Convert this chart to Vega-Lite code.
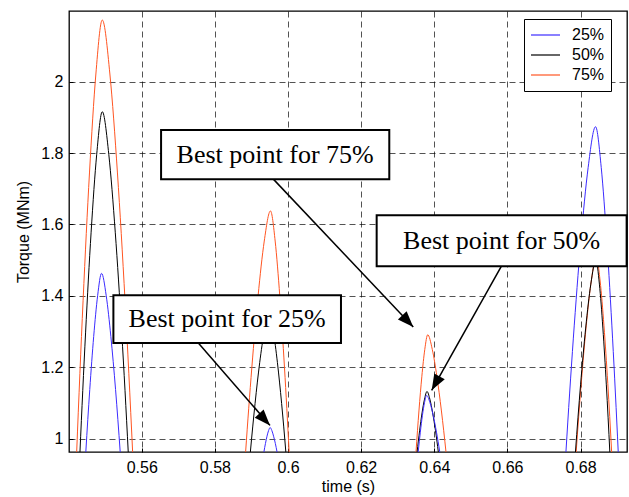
{
  "$schema": "https://vega.github.io/schema/vega-lite/v6.json",
  "width": 558,
  "height": 441,
  "autosize": {"type": "none"},
  "padding": {"left": 69, "top": 11, "right": 2, "bottom": 45},
  "background": "#ffffff",
  "config": {
    "view": {"stroke": "#000000", "strokeWidth": 1.3},
    "font": "Liberation Sans",
    "axis": {
      "grid": true,
      "gridColor": "#000000",
      "gridDash": [6, 4],
      "gridWidth": 0.8,
      "gridOpacity": 0.85,
      "domain": false,
      "ticks": true,
      "tickSize": -4,
      "tickColor": "#000000",
      "labelFont": "Liberation Sans",
      "labelFontSize": 16,
      "labelColor": "#000000",
      "titleFont": "Liberation Sans",
      "titleFontSize": 16,
      "titleFontWeight": "normal",
      "titleColor": "#000000"
    },
    "legend": {"labelFontSize": 16, "labelFont": "Liberation Sans", "labelColor": "#000000"}
  },
  "datasets": {
    "curves": [
      {"s": "75%", "k": "R1", "t": 0.54115, "T": 0.6803}, {"s": "75%", "k": "R1", "t": 0.5422, "T": 0.9624}, {"s": "75%", "k": "R1", "t": 0.54395, "T": 1.3861}, {"s": "75%", "k": "R1", "t": 0.5457, "T": 1.7444}, {"s": "75%", "k": "R1", "t": 0.54745, "T": 2.0217}, {"s": "75%", "k": "R1", "t": 0.5492, "T": 2.173}, {"s": "75%", "k": "R1", "t": 0.55128, "T": 2.0217}, {"s": "75%", "k": "R1", "t": 0.55335, "T": 1.7444}, {"s": "75%", "k": "R1", "t": 0.55543, "T": 1.3861}, {"s": "75%", "k": "R1", "t": 0.5575, "T": 0.9624}, {"s": "75%", "k": "R1", "t": 0.55875, "T": 0.6803},
      {"s": "75%", "k": "R2", "t": 0.58738, "T": 0.805}, {"s": "75%", "k": "R2", "t": 0.5884, "T": 0.9624}, {"s": "75%", "k": "R2", "t": 0.5901, "T": 1.1989}, {"s": "75%", "k": "R2", "t": 0.5918, "T": 1.3988}, {"s": "75%", "k": "R2", "t": 0.5935, "T": 1.5536}, {"s": "75%", "k": "R2", "t": 0.5952, "T": 1.638}, {"s": "75%", "k": "R2", "t": 0.59648, "T": 1.5536}, {"s": "75%", "k": "R2", "t": 0.59775, "T": 1.3988}, {"s": "75%", "k": "R2", "t": 0.59903, "T": 1.1989}, {"s": "75%", "k": "R2", "t": 0.6003, "T": 0.9624}, {"s": "75%", "k": "R2", "t": 0.60107, "T": 0.805},
      {"s": "75%", "k": "R3", "t": 0.63452, "T": 0.8858}, {"s": "75%", "k": "R3", "t": 0.635, "T": 0.9624}, {"s": "75%", "k": "R3", "t": 0.6358, "T": 1.0774}, {"s": "75%", "k": "R3", "t": 0.6366, "T": 1.1747}, {"s": "75%", "k": "R3", "t": 0.6374, "T": 1.2499}, {"s": "75%", "k": "R3", "t": 0.6382, "T": 1.291}, {"s": "75%", "k": "R3", "t": 0.63945, "T": 1.2499}, {"s": "75%", "k": "R3", "t": 0.6407, "T": 1.1747}, {"s": "75%", "k": "R3", "t": 0.64195, "T": 1.0774}, {"s": "75%", "k": "R3", "t": 0.6432, "T": 0.9624}, {"s": "75%", "k": "R3", "t": 0.64395, "T": 0.8858},
      {"s": "75%", "k": "R4", "t": 0.67797, "T": 0.8348}, {"s": "75%", "k": "R4", "t": 0.6788, "T": 0.9624}, {"s": "75%", "k": "R4", "t": 0.68018, "T": 1.1541}, {"s": "75%", "k": "R4", "t": 0.68155, "T": 1.3161}, {"s": "75%", "k": "R4", "t": 0.68293, "T": 1.4416}, {"s": "75%", "k": "R4", "t": 0.6843, "T": 1.51}, {"s": "75%", "k": "R4", "t": 0.68535, "T": 1.4416}, {"s": "75%", "k": "R4", "t": 0.6864, "T": 1.3161}, {"s": "75%", "k": "R4", "t": 0.68745, "T": 1.1541}, {"s": "75%", "k": "R4", "t": 0.6885, "T": 0.9624}, {"s": "75%", "k": "R4", "t": 0.68913, "T": 0.8348},
      {"s": "50%", "k": "K1", "t": 0.54218, "T": 0.7402}, {"s": "50%", "k": "K1", "t": 0.5431, "T": 0.9624}, {"s": "50%", "k": "K1", "t": 0.54463, "T": 1.2962}, {"s": "50%", "k": "K1", "t": 0.54615, "T": 1.5784}, {"s": "50%", "k": "K1", "t": 0.54768, "T": 1.7968}, {"s": "50%", "k": "K1", "t": 0.5492, "T": 1.916}, {"s": "50%", "k": "K1", "t": 0.55098, "T": 1.7968}, {"s": "50%", "k": "K1", "t": 0.55275, "T": 1.5784}, {"s": "50%", "k": "K1", "t": 0.55453, "T": 1.2962}, {"s": "50%", "k": "K1", "t": 0.5563, "T": 0.9624}, {"s": "50%", "k": "K1", "t": 0.55737, "T": 0.7402},
      {"s": "50%", "k": "K2", "t": 0.58893, "T": 0.8721}, {"s": "50%", "k": "K2", "t": 0.5897, "T": 0.9624}, {"s": "50%", "k": "K2", "t": 0.59098, "T": 1.0981}, {"s": "50%", "k": "K2", "t": 0.59225, "T": 1.2128}, {"s": "50%", "k": "K2", "t": 0.59353, "T": 1.3016}, {"s": "50%", "k": "K2", "t": 0.5948, "T": 1.35}, {"s": "50%", "k": "K2", "t": 0.59595, "T": 1.3016}, {"s": "50%", "k": "K2", "t": 0.5971, "T": 1.2128}, {"s": "50%", "k": "K2", "t": 0.59825, "T": 1.0981}, {"s": "50%", "k": "K2", "t": 0.5994, "T": 0.9624}, {"s": "50%", "k": "K2", "t": 0.60009, "T": 0.8721},
      {"s": "50%", "k": "K3", "t": 0.6349, "T": 0.9229}, {"s": "50%", "k": "K3", "t": 0.6353, "T": 0.9624}, {"s": "50%", "k": "K3", "t": 0.63598, "T": 1.0218}, {"s": "50%", "k": "K3", "t": 0.63665, "T": 1.072}, {"s": "50%", "k": "K3", "t": 0.63733, "T": 1.1108}, {"s": "50%", "k": "K3", "t": 0.638, "T": 1.132}, {"s": "50%", "k": "K3", "t": 0.63878, "T": 1.1108}, {"s": "50%", "k": "K3", "t": 0.63955, "T": 1.072}, {"s": "50%", "k": "K3", "t": 0.64033, "T": 1.0218}, {"s": "50%", "k": "K3", "t": 0.6411, "T": 0.9624}, {"s": "50%", "k": "K3", "t": 0.64157, "T": 0.9229},
      {"s": "50%", "k": "K4", "t": 0.67776, "T": 0.8371}, {"s": "50%", "k": "K4", "t": 0.6786, "T": 0.9624}, {"s": "50%", "k": "K4", "t": 0.68, "T": 1.1506}, {"s": "50%", "k": "K4", "t": 0.6814, "T": 1.3097}, {"s": "50%", "k": "K4", "t": 0.6828, "T": 1.4328}, {"s": "50%", "k": "K4", "t": 0.6842, "T": 1.5}, {"s": "50%", "k": "K4", "t": 0.68515, "T": 1.4328}, {"s": "50%", "k": "K4", "t": 0.6861, "T": 1.3097}, {"s": "50%", "k": "K4", "t": 0.68705, "T": 1.1506}, {"s": "50%", "k": "K4", "t": 0.688, "T": 0.9624}, {"s": "50%", "k": "K4", "t": 0.68857, "T": 0.8371},
      {"s": "25%", "k": "B1", "t": 0.54405, "T": 0.8458}, {"s": "25%", "k": "B1", "t": 0.5447, "T": 0.9624}, {"s": "25%", "k": "B1", "t": 0.54578, "T": 1.1376}, {"s": "25%", "k": "B1", "t": 0.54685, "T": 1.2858}, {"s": "25%", "k": "B1", "t": 0.54793, "T": 1.4004}, {"s": "25%", "k": "B1", "t": 0.549, "T": 1.463}, {"s": "25%", "k": "B1", "t": 0.55028, "T": 1.4004}, {"s": "25%", "k": "B1", "t": 0.55155, "T": 1.2858}, {"s": "25%", "k": "B1", "t": 0.55283, "T": 1.1376}, {"s": "25%", "k": "B1", "t": 0.5541, "T": 0.9624}, {"s": "25%", "k": "B1", "t": 0.55487, "T": 0.8458},
      {"s": "25%", "k": "B2", "t": 0.59314, "T": 0.9464}, {"s": "25%", "k": "B2", "t": 0.5934, "T": 0.9624}, {"s": "25%", "k": "B2", "t": 0.59383, "T": 0.9864}, {"s": "25%", "k": "B2", "t": 0.59425, "T": 1.0067}, {"s": "25%", "k": "B2", "t": 0.59468, "T": 1.0224}, {"s": "25%", "k": "B2", "t": 0.5951, "T": 1.031}, {"s": "25%", "k": "B2", "t": 0.59558, "T": 1.0224}, {"s": "25%", "k": "B2", "t": 0.59605, "T": 1.0067}, {"s": "25%", "k": "B2", "t": 0.59653, "T": 0.9864}, {"s": "25%", "k": "B2", "t": 0.597, "T": 0.9624}, {"s": "25%", "k": "B2", "t": 0.59729, "T": 0.9464},
      {"s": "25%", "k": "B3", "t": 0.63525, "T": 0.9254}, {"s": "25%", "k": "B3", "t": 0.6356, "T": 0.9624}, {"s": "25%", "k": "B3", "t": 0.63618, "T": 1.0179}, {"s": "25%", "k": "B3", "t": 0.63675, "T": 1.0649}, {"s": "25%", "k": "B3", "t": 0.63733, "T": 1.1012}, {"s": "25%", "k": "B3", "t": 0.6379, "T": 1.121}, {"s": "25%", "k": "B3", "t": 0.6388, "T": 1.1012}, {"s": "25%", "k": "B3", "t": 0.6397, "T": 1.0649}, {"s": "25%", "k": "B3", "t": 0.6406, "T": 1.0179}, {"s": "25%", "k": "B3", "t": 0.6415, "T": 0.9624}, {"s": "25%", "k": "B3", "t": 0.64204, "T": 0.9254},
      {"s": "25%", "k": "B4", "t": 0.67478, "T": 0.75}, {"s": "25%", "k": "B4", "t": 0.676, "T": 0.9624}, {"s": "25%", "k": "B4", "t": 0.67803, "T": 1.2815}, {"s": "25%", "k": "B4", "t": 0.68005, "T": 1.5513}, {"s": "25%", "k": "B4", "t": 0.68208, "T": 1.7601}, {"s": "25%", "k": "B4", "t": 0.6841, "T": 1.874}, {"s": "25%", "k": "B4", "t": 0.68565, "T": 1.7601}, {"s": "25%", "k": "B4", "t": 0.6872, "T": 1.5513}, {"s": "25%", "k": "B4", "t": 0.68875, "T": 1.2815}, {"s": "25%", "k": "B4", "t": 0.6903, "T": 0.9624}, {"s": "25%", "k": "B4", "t": 0.69123, "T": 0.75}
    ],
    "boxes": [
      {"label": "Best point for 75%", "x1": 0.56528, "x2": 0.62769, "y1": 1.7271, "y2": 1.8645, "xm": 0.59649, "ym": 1.7958},
      {"label": "Best point for 25%", "x1": 0.55224, "x2": 0.61448, "y1": 1.2679, "y2": 1.4017, "xm": 0.58336, "ym": 1.3348},
      {"label": "Best point for 50%", "x1": 0.62424, "x2": 0.6926, "y1": 1.483, "y2": 1.6261, "xm": 0.65842, "ym": 1.5546}
    ],
    "arrows": [
      {"label": "75%", "x1": 0.59598, "y1": 1.7271, "x2": 0.63425, "y2": 1.3128, "heading": 136.5},
      {"label": "25%", "x1": 0.57547, "y1": 1.2679, "x2": 0.59507, "y2": 1.037, "heading": 137.5},
      {"label": "50%", "x1": 0.65836, "y1": 1.483, "x2": 0.63928, "y2": 1.1352, "heading": 209.4}
    ]
  },
  "layer": [
    {
      "data": {"name": "curves"},
      "mark": {"type": "line", "clip": true, "strokeWidth": 1, "interpolate": "monotone"},
      "encoding": {
        "x": {"field": "t", "type": "quantitative", "scale": {"domain": [0.5401, 0.6927], "nice": false, "zero": false},
          "axis": {"title": "time (s)", "values": [0.56, 0.58, 0.6, 0.62, 0.64, 0.66, 0.68], "format": "~g", "labelPadding": 11, "titlePadding": 3}},
        "y": {"field": "T", "type": "quantitative", "scale": {"domain": [0.9624, 2.1983], "nice": false, "zero": false},
          "axis": {"title": "Torque (MNm)", "values": [1, 1.2, 1.4, 1.6, 1.8, 2], "format": "~g", "labelPadding": 10, "titlePadding": 9}},
        "color": {"field": "s", "type": "nominal",
          "scale": {"domain": ["25%", "50%", "75%"], "range": ["#3b2bff", "#000000", "#ff5522"]},
          "legend": {"title": null, "orient": "none", "legendX": 455, "legendY": 8, "symbolType": "stroke", "symbolSize": 841, "symbolStrokeWidth": 1.2, "clipHeight": 20, "rowPadding": 0, "labelFontSize": 16, "labelOffset": 11, "labelFont": "Liberation Sans", "labelColor": "#000000", "strokeColor": "#000000", "fillColor": "#ffffff", "padding": 6}},
        "detail": {"field": "k"}
      }
    },
    {
      "data": {"name": "arrows"},
      "mark": {"type": "rule", "strokeWidth": 1.5, "color": "#000000"},
      "encoding": {
        "x": {"field": "x1", "type": "quantitative", "scale": {"domain": [0.5401, 0.6927], "nice": false, "zero": false},
          "axis": {"title": "time (s)", "values": [0.56, 0.58, 0.6, 0.62, 0.64, 0.66, 0.68], "format": "~g", "labelPadding": 11, "titlePadding": 3}},
        "y": {"field": "y1", "type": "quantitative", "scale": {"domain": [0.9624, 2.1983], "nice": false, "zero": false},
          "axis": {"title": "Torque (MNm)", "values": [1, 1.2, 1.4, 1.6, 1.8, 2], "format": "~g", "labelPadding": 10, "titlePadding": 9}},
        "x2": {"field": "x2"},
        "y2": {"field": "y2"}
      }
    },
    {
      "data": {"name": "arrows"},
      "mark": {"type": "point", "shape": "M0,0L0.375,1L-0.375,1Z", "size": 1024, "filled": true, "color": "#000000", "opacity": 1, "strokeWidth": 0},
      "encoding": {
        "x": {"field": "x2", "type": "quantitative", "scale": {"domain": [0.5401, 0.6927], "nice": false, "zero": false},
          "axis": {"title": "time (s)", "values": [0.56, 0.58, 0.6, 0.62, 0.64, 0.66, 0.68], "format": "~g", "labelPadding": 11, "titlePadding": 3}},
        "y": {"field": "y2", "type": "quantitative", "scale": {"domain": [0.9624, 2.1983], "nice": false, "zero": false},
          "axis": {"title": "Torque (MNm)", "values": [1, 1.2, 1.4, 1.6, 1.8, 2], "format": "~g", "labelPadding": 10, "titlePadding": 9}},
        "angle": {"field": "heading", "type": "quantitative", "scale": null}
      }
    },
    {
      "data": {"name": "boxes"},
      "mark": {"type": "rect", "fill": "#ffffff", "stroke": "#000000", "strokeWidth": 2},
      "encoding": {
        "x": {"field": "x1", "type": "quantitative", "scale": {"domain": [0.5401, 0.6927], "nice": false, "zero": false},
          "axis": {"title": "time (s)", "values": [0.56, 0.58, 0.6, 0.62, 0.64, 0.66, 0.68], "format": "~g", "labelPadding": 11, "titlePadding": 3}},
        "x2": {"field": "x2"},
        "y": {"field": "y1", "type": "quantitative", "scale": {"domain": [0.9624, 2.1983], "nice": false, "zero": false},
          "axis": {"title": "Torque (MNm)", "values": [1, 1.2, 1.4, 1.6, 1.8, 2], "format": "~g", "labelPadding": 10, "titlePadding": 9}},
        "y2": {"field": "y2"}
      }
    },
    {
      "data": {"name": "boxes"},
      "mark": {"type": "text", "font": "Liberation Serif", "fontSize": 26, "color": "#000000", "baseline": "middle", "align": "center"},
      "encoding": {
        "x": {"field": "xm", "type": "quantitative", "scale": {"domain": [0.5401, 0.6927], "nice": false, "zero": false},
          "axis": {"title": "time (s)", "values": [0.56, 0.58, 0.6, 0.62, 0.64, 0.66, 0.68], "format": "~g", "labelPadding": 11, "titlePadding": 3}},
        "y": {"field": "ym", "type": "quantitative", "scale": {"domain": [0.9624, 2.1983], "nice": false, "zero": false},
          "axis": {"title": "Torque (MNm)", "values": [1, 1.2, 1.4, 1.6, 1.8, 2], "format": "~g", "labelPadding": 10, "titlePadding": 9}},
        "text": {"field": "label"}
      }
    }
  ]
}
